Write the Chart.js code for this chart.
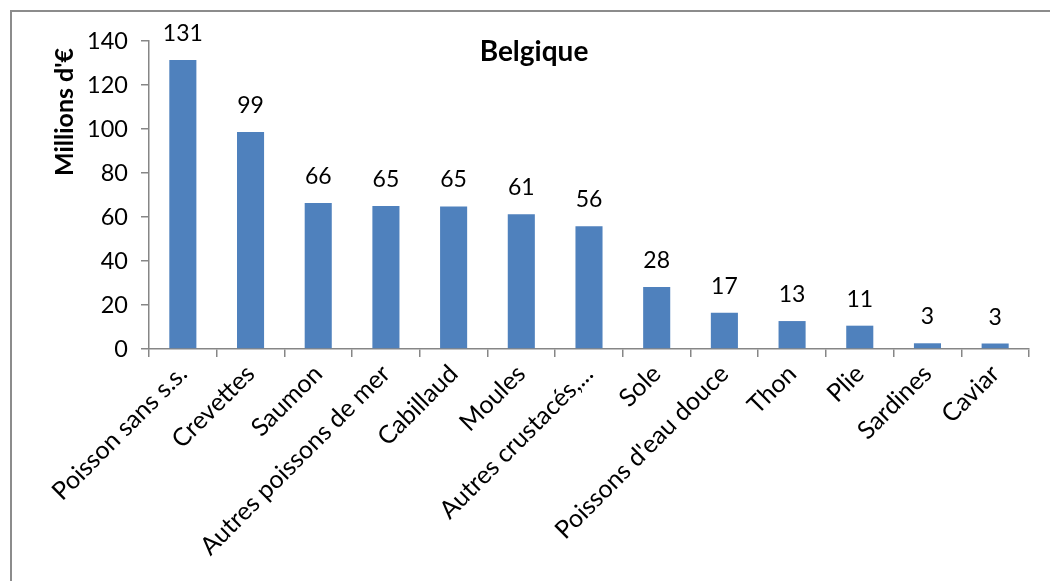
<!DOCTYPE html>
<html>
<head>
<meta charset="utf-8">
<script src="https://cdn.jsdelivr.net/npm/chart.js@4"></script>
<style>
  html, body { margin: 0; padding: 0; background: #fff; overflow: hidden; }
  #wrap { width: 1050px; height: 581px; position: relative; }
</style>
</head>
<body>
<div id="wrap"><canvas id="chart" width="1050" height="581"></canvas></div>
<script>
    // --- DONNÉES ---
    const categories = ['Poisson sans s.s.', 'Crevettes', 'Saumon', 'Autres poissons de mer', 'Cabillaud',
        'Moules', 'Autres crustacés,...', 'Sole', "Poissons d'eau douce", 'Thon', 'Plie', 'Sardines', 'Caviar'];
    const values = [131.4, 98.6, 66.4, 65.0, 64.8, 61.2, 55.8, 28.2, 16.5, 12.7, 10.6, 2.6, 2.5];
    const yTicks = [0, 20, 40, 60, 80, 100, 120, 140];
    const chartTitle = 'Belgique';
    const yTitle = "Millions d'€";

    const FONT = 'Lato, "Open Sans", sans-serif';
    const AXIS_COLOR = '#868686';
    const BAR_COLOR = '#4F81BD';

    // cadre + titres + étiquettes
    const decorPlugin = {
        id: 'decor',
        beforeDraw(chart) {
            const ctx = chart.ctx;
            ctx.save();
            ctx.strokeStyle = '#8c8c8c';
            ctx.lineWidth = 2;
            ctx.strokeRect(11, 11, 1200, 1000);
            ctx.restore();
        },
        afterDraw(chart) {
            const ctx = chart.ctx;
            const area = chart.chartArea;
            ctx.save();
            ctx.fillStyle = '#000';

            // titre
            ctx.font = 'bold 28px ' + FONT;
            ctx.textAlign = 'center';
            ctx.textBaseline = 'alphabetic';
            ctx.fillText(chartTitle, 534, area.top + 20);

            // titre de l'axe Y
            ctx.save();
            ctx.translate(73, 112);
            ctx.rotate(-Math.PI / 2);
            ctx.font = 'bold 25px ' + FONT;
            ctx.fillText(yTitle, 0, 0);
            ctx.restore();

            // valeurs au-dessus des barres
            ctx.font = '23px ' + FONT;
            const meta = chart.getDatasetMeta(0);
            meta.data.forEach((bar, i) => {
                ctx.fillText(Math.round(values[i]).toString(), bar.x, bar.y - 19);
            });
            ctx.restore();
        }
    };

    new Chart(document.getElementById('chart'), {
        type: 'bar',
        data: {
            labels: categories,
            datasets: [{
                data: values,
                backgroundColor: BAR_COLOR,
                borderWidth: 0,
                barPercentage: 0.4,
                categoryPercentage: 1.0
            }]
        },
        options: {
            responsive: false,
            animation: false,
            layout: { padding: { top: 41, right: 21, left: 0, bottom: 0 } },
            plugins: {
                legend: { display: false },
                tooltip: { enabled: false },
                title: { display: false }
            },
            scales: {
                x: {
                    offset: true,
                    afterFit: (scale) => { scale.height = 232; },
                    grid: {
                        offset: true,
                        drawOnChartArea: false,
                        drawTicks: true,
                        tickLength: 8,
                        color: AXIS_COLOR,
                        lineWidth: 1.5
                    },
                    border: { color: AXIS_COLOR, width: 1.5 },
                    ticks: {
                        minRotation: 45,
                        maxRotation: 45,
                        autoSkip: false,
                        padding: 2,
                        color: '#000',
                        font: { family: FONT, size: 25 }
                    }
                },
                y: {
                    min: 0,
                    max: 140,
                    afterFit: (scale) => { scale.width = 149; },
                    afterBuildTicks: (scale) => { scale.ticks = yTicks.map(v => ({ value: v })); },
                    grid: {
                        drawOnChartArea: false,
                        drawTicks: true,
                        tickLength: 8,
                        color: AXIS_COLOR,
                        lineWidth: 1.5
                    },
                    border: { color: AXIS_COLOR, width: 1.5 },
                    ticks: {
                        padding: 13,
                        color: '#000',
                        font: { family: FONT, size: 23.5 }
                    }
                }
            }
        },
        plugins: [decorPlugin]
    });
</script>
</body>
</html>
